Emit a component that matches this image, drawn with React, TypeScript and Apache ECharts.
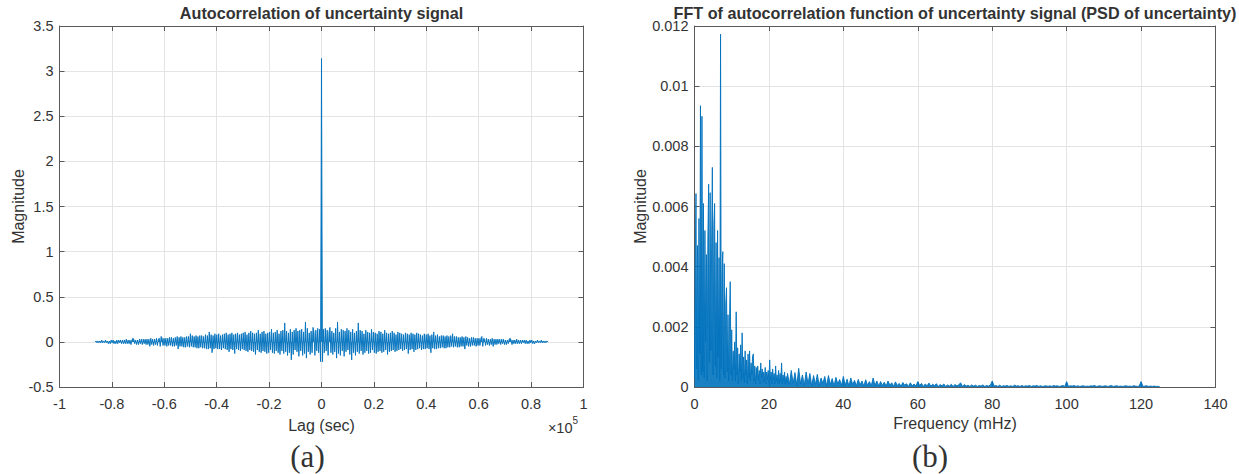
import React, { useEffect, useRef } from "react";
import * as echarts from "echarts";

// ---------- DATA ----------
// (a) autocorrelation: sampled lag step (s), value at zero lag, positive-lag values (x0.01).
// The autocorrelation of a real signal is symmetric, negative lags mirror these.
const acfLagStepSec = 360;
const acfZeroLagValue = 3.14;
const acfPositiveLagHundredths = [
  -22, 14, -12, 15, -10, 13, -15, 11, 16, -12,
  12, -14, 10, -11, 15, -18, 22, -13, 11, -15,
  14, -10, 13, -16, 12, -11, 15, -9, 13, -14,
  11, -20, 14, -12, 10, -15, 12, -11, 21, -13,
  13, -10, 12, -14, 9, -12, 13, -10, 11, -13,
  10, -12, 14, -9, 11, -12, 10, -13, 9, -11,
  12, -10, 11, -12, 9, -11, 13, -9, 10, -14,
  9, -11, 10, -10, 12, -9, 10, -11, 8, -10,
  11, -9, 10, -8, 9, -10, 8, -9, 10, -8,
  9, -13, 8, -9, 10, -8, 9, -11, 8, -9,
  10, -8, 9, -7, 8, -9, 7, -8, 9, -8,
  8, -7, 9, -8, 7, -12, 8, -7, 11, -8,
  7, -8, 8, -7, 6, -7, 7, -6, 7, -7,
  6, -7, 7, -6, 6, -6, 7, -5, 9, -6,
  6, -5, 6, -6, 5, -6, 5, -5, 6, -5,
  5, -8, 6, -4, 5, -5, 4, -5, 5, -4,
  5, -4, 4, -5, 4, -4, 4, -4, 4, 6,
  -5, 4, 3, -4, 4, -3, 3, -4, 3, -3,
  4, -5, 3, -3, 3, -3, 3, -2, 3, -3,
  3, -2, 3, -3, 2, -3, 2, -2, 3, 4,
  2, -3, 2, -2, 2, -2, 3, -2, 2, -2,
  2, -2, 2, -1, 2, -2, 2, -2, 1, -2,
  2, -1, 2, -2, 1, -2, 1, -1, 2, -1,
  1, -1, 2, -1, 1, -1, 1, -1, 1, 0,
];

// (b) PSD magnitude (x1e-5), fine segment 0..25 mHz, coarse segment 25.5..125 mHz
const psdFineStartMHz = 0;
const psdFineStepMHz = 0.2;
const psdFine = [
  30, 430, 643, 60, 470, 20, 560, 110, 935, 40,
  900, 50, 610, 30, 520, 150, 440, 20, 500, 674,
  80, 646, 120, 480, 730, 40, 540, 610, 70, 480,
  30, 520, 100, 430, 20, 1173, 60, 380, 450, 40,
  410, 30, 280, 330, 50, 240, 20, 210, 350, 40,
  190, 20, 120, 60, 150, 20, 250, 40, 130, 10,
  110, 50, 140, 20, 180, 30, 100, 15, 120, 40,
  90, 10, 110, 30, 120, 20, 80, 40, 100, 110,
  20, 70, 10, 65, 30, 70, 20, 55, 10, 80,
  30, 60, 15, 50, 20, 65, 10, 50, 25, 55,
  15, 90, 20, 50, 10, 60, 25, 45, 10, 70,
  20, 40, 15, 55, 10, 45, 20, 80, 10, 40,
  20, 50, 10, 35, 15, 45,
];
const psdCoarseStartMHz = 25.5;
const psdCoarseStepMHz = 0.5;
const psdCoarse = [
  8, 55, 12, 48, 5, 62, 10, 40, 6, 50,
  10, 45, 4, 38, 8, 42, 5, 30, 12, 35,
  4, 38, 8, 28, 3, 32, 10, 25, 5, 35,
  6, 26, 3, 30, 8, 22, 4, 25, 7, 20,
  3, 24, 6, 18, 4, 30, 5, 20, 3, 18,
  5, 16, 3, 20, 6, 14, 2, 17, 5, 12,
  3, 15, 6, 11, 2, 14, 4, 10, 3, 18,
  5, 12, 2, 10, 4, 13, 3, 9, 5, 11,
  2, 8, 4, 10, 2, 7, 3, 9, 2, 8,
  4, 7, 14, 2, 8, 3, 6, 2, 7, 3,
  6, 2, 5, 3, 7, 2, 5, 3, 6, 20,
  3, 5, 2, 6, 2, 4, 3, 5, 2, 4,
  2, 6, 3, 4, 2, 5, 2, 4, 3, 5,
  2, 4, 3, 5, 2, 4, 2, 3, 4, 2,
  4, 2, 5, 3, 4, 2, 3, 5, 2, 18,
  2, 4, 3, 5, 2, 4, 2, 3, 4, 2,
  3, 2, 4, 3, 5, 2, 3, 4, 2, 3,
  4, 2, 3, 5, 2, 3, 4, 2, 3, 2,
  3, 4, 2, 3, 2, 4, 3, 2, 3, 18,
  2, 3, 4, 2, 3, 2, 3, 2, 2, 1,
];

// tick labels
const lagTickLabels = ["-1", "-0.8", "-0.6", "-0.4", "-0.2", "0", "0.2", "0.4", "0.6", "0.8", "1"];
const acfTickLabels = ["-0.5", "0", "0.5", "1", "1.5", "2", "2.5", "3", "3.5"];
const freqTickLabels = ["0", "20", "40", "60", "80", "100", "120", "140"];
const psdTickLabels = ["0", "0.002", "0.004", "0.006", "0.008", "0.01", "0.012"];

// texts
const titleA = "Autocorrelation of uncertainty signal";
const titleB = "FFT of autocorrelation function of uncertainty signal (PSD of uncertainty)";
const xNameA = "Lag (sec)";
const xNameB = "Frequency (mHz)";
const yName = "Magnitude";

// ---------- STYLE ----------
const SANS = "'Liberation Sans', Arial, Helvetica, sans-serif";
const SERIF = "'Liberation Serif', 'Times New Roman', serif";
const LINE = "#0072BD";
const AXIS = "#5a5a5a";
const GRID = "#e4e4e4";
const TEXT = "#333333";
const TICK_FS = 14.5;

function labelFrom(labels: string[], min: number, interval: number) {
  return (v: number) => {
    const i = Math.round((v - min) / interval);
    return labels[i] ?? "";
  };
}

function axesPair(
  dim: "x" | "y",
  gridIndex: number,
  min: number,
  max: number,
  interval: number,
  labels: string[],
  margin: number
) {
  const common = {
    type: "value",
    gridIndex,
    min,
    max,
    interval,
    axisLine: { show: true, onZero: false, lineStyle: { color: AXIS, width: 1 } },
    axisTick: { show: true, inside: true, length: 5, lineStyle: { color: AXIS } },
  };
  return [
    {
      ...common,
      position: dim === "x" ? "bottom" : "left",
      axisLabel: {
        show: true,
        margin,
        color: TEXT,
        fontFamily: SANS,
        fontSize: TICK_FS,
        showMinLabel: true,
        showMaxLabel: true,
        formatter: labelFrom(labels, min, interval),
      },
      splitLine: { show: true, lineStyle: { color: GRID, width: 1 } },
    },
    {
      ...common,
      position: dim === "x" ? "top" : "right",
      axisLabel: { show: false },
      splitLine: { show: false },
    },
  ];
}

export default function App() {
  const ref = useRef<HTMLDivElement>(null);

  useEffect(() => {
    if (!ref.current) return;
    const chart = echarts.init(ref.current, undefined, { renderer: "svg" });

    const acfData: number[][] = [];
    for (let i = acfPositiveLagHundredths.length; i >= 1; i--) {
      acfData.push([-i * acfLagStepSec, acfPositiveLagHundredths[i - 1] / 100]);
    }
    acfData.push([0, acfZeroLagValue]);
    for (let i = 1; i <= acfPositiveLagHundredths.length; i++) {
      acfData.push([i * acfLagStepSec, acfPositiveLagHundredths[i - 1] / 100]);
    }

    const psdData: number[][] = [];
    psdFine.forEach((v, i) => {
      psdData.push([+(psdFineStartMHz + i * psdFineStepMHz).toFixed(2), v * 1e-5]);
    });
    psdCoarse.forEach((v, i) => {
      psdData.push([+(psdCoarseStartMHz + i * psdCoarseStepMHz).toFixed(2), v * 1e-5]);
    });

    const xA = axesPair("x", 0, -100000, 100000, 20000, lagTickLabels, 9);
    const yA = axesPair("y", 0, -0.5, 3.5, 0.5, acfTickLabels, 6);
    const xB = axesPair("x", 1, 0, 140, 20, freqTickLabels, 9);
    const yB = axesPair("y", 1, 0, 0.012, 0.002, psdTickLabels, 6);

    const txt = (
      text: string,
      x: number,
      y: number,
      font: string,
      align = "center",
      extra: any = {}
    ) => ({
      type: "text",
      x,
      y,
      silent: true,
      ...extra,
      style: {
        text,
        font,
        fill: TEXT,
        textAlign: align,
        textVerticalAlign: "middle",
        align,
        verticalAlign: "middle",
      },
    });

    chart.setOption({
      animation: false,
      backgroundColor: "#ffffff",
      grid: [
        { left: 59.5, top: 26, width: 524, height: 361, containLabel: false },
        { left: 694.5, top: 26, width: 521, height: 361, containLabel: false },
      ],
      xAxis: [...xA, ...xB],
      yAxis: [...yA, ...yB],
      series: [
        {
          type: "line",
          xAxisIndex: 0,
          yAxisIndex: 0,
          data: acfData,
          showSymbol: false,
          symbol: "none",
          lineStyle: { color: LINE, width: 0.9 },
          areaStyle: { color: LINE, opacity: 0.9 },
          clip: true,
        },
        {
          type: "line",
          xAxisIndex: 2,
          yAxisIndex: 2,
          data: psdData,
          showSymbol: false,
          symbol: "none",
          lineStyle: { color: LINE, width: 0.9 },
          areaStyle: { color: LINE, opacity: 0.9 },
          clip: true,
        },
      ],
      graphic: [
        txt(titleA, 321.5, 12.5, `bold 16.2px ${SANS}`),
        txt(titleB, 955, 12.5, `bold 16.2px ${SANS}`),
        txt(yName, 18, 206.5, `16px ${SANS}`, "center", { rotation: Math.PI / 2 }),
        txt(yName, 640.5, 206.5, `16px ${SANS}`, "center", { rotation: Math.PI / 2 }),
        txt(xNameA, 321.5, 425, `16px ${SANS}`),
        txt(xNameB, 955, 423, `16px ${SANS}`),
        txt("\u00d710", 572.5, 428, `${TICK_FS}px ${SANS}`, "right"),
        txt("5", 572.5, 420, `10px ${SANS}`, "left"),
        txt("(a)", 307.5, 456, `31px ${SERIF}`),
        txt("(b)", 930, 456, `31px ${SERIF}`),
      ],
    });

    return () => chart.dispose();
  }, []);

  return (
    <div
      ref={ref}
      style={{ position: "fixed", left: 0, top: 0, width: 1239, height: 474, background: "#fff" }}
    />
  );
}
